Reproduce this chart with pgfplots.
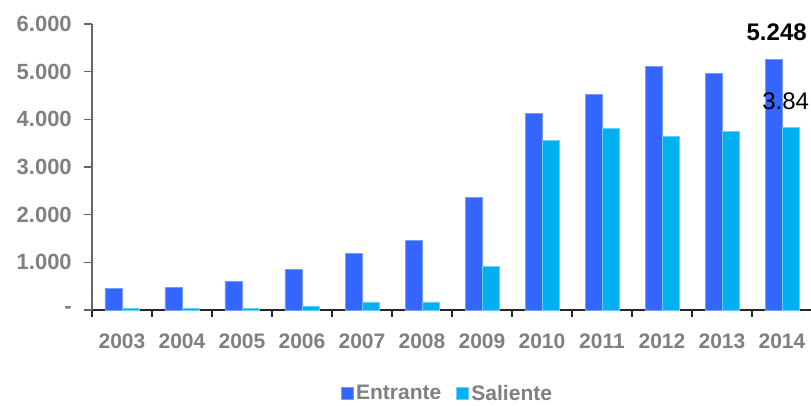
\documentclass[border=0pt]{standalone}
\usepackage{fontspec}
\setmainfont{Liberation Sans}
\usepackage{pgfplots}
\pgfplotsset{compat=1.18}
\definecolor{entr}{HTML}{3366FF}
\definecolor{entredge}{HTML}{7A9BFF}
\definecolor{sal}{HTML}{00B0F0}
\definecolor{saledge}{HTML}{66D0F6}
\definecolor{lbl}{HTML}{808080}
\begin{document}
\begin{tikzpicture}
\useasboundingbox (-69pt,-72pt) rectangle (539.25pt,232.5pt);
\begin{axis}[
  at={(0,0)}, anchor=south west,
  scale only axis, width=540pt, height=214.5pt,
  ybar=0pt, bar width=12.75pt,
  xmin=-0.5, xmax=11.5, ymin=0, ymax=6000,
  axis x line*=bottom, axis y line*=left,
  x axis line style={black!85, line width=0.9pt},
  y axis line style={black!60, line width=0.9pt},
  tick align=outside,
  major tick length=6pt, minor tick length=5pt,
  xtick={0,...,11},
  xticklabels={2003,2004,2005,2006,2007,2008,2009,2010,2011,2012,2013,2014},
  minor xtick={-0.5,0.5,...,11.5},
  major x tick style={draw=none},
  minor x tick style={black!85, line width=0.8pt},
  ytick={0,1000,...,6000},
  yticklabels={-,1.000,2.000,3.000,4.000,5.000,6.000},
  y tick style={black!60, line width=0.8pt},
  ticklabel style={font=\fontsize{15.75}{18}\selectfont\bfseries, text=lbl},
  xticklabel style={anchor=north, inner sep=0pt, yshift=-12pt},
  yticklabel style={anchor=east, inner sep=0pt, xshift=-9pt,
    font=\fontsize{16.5}{18}\selectfont\bfseries},
  legend style={at={(0.494,-0.292)}, anchor=center, draw=none,
    font=\fontsize{15.75}{18}\selectfont\bfseries, text=lbl,
    legend columns=2, /tikz/every even column/.append style={column sep=9pt}},
  legend image code/.code={\fill[#1] (0pt,-4.5pt) rectangle (9pt,4.5pt);},
  clip=false,
]
\addplot[fill=entr, draw=entredge, line width=0.6pt] coordinates {
  (0,461) (1,482) (2,608) (3,860) (4,1195) (5,1467)
  (6,2369) (7,4130) (8,4528) (9,5115) (10,4969) (11,5248)
};
\addplot[fill=sal, draw=saledge, line width=0.6pt] coordinates {
  (0,40) (1,30) (2,40) (3,84) (4,168) (5,168)
  (6,922) (7,3564) (8,3815) (9,3648) (10,3753) (11,3836)
};
\legend{Entrante,Saliente}
\node[anchor=base, font=\fontsize{18}{20}\selectfont\bfseries, xshift=-4pt, yshift=14.25pt]
  at (axis cs:11,5248) {5.248};
\node[anchor=base west, inner sep=0pt, font=\fontsize{18}{20}\selectfont]
  at (axis cs:10.667,4196) {3.84};
\end{axis}
\end{tikzpicture}
\end{document}
